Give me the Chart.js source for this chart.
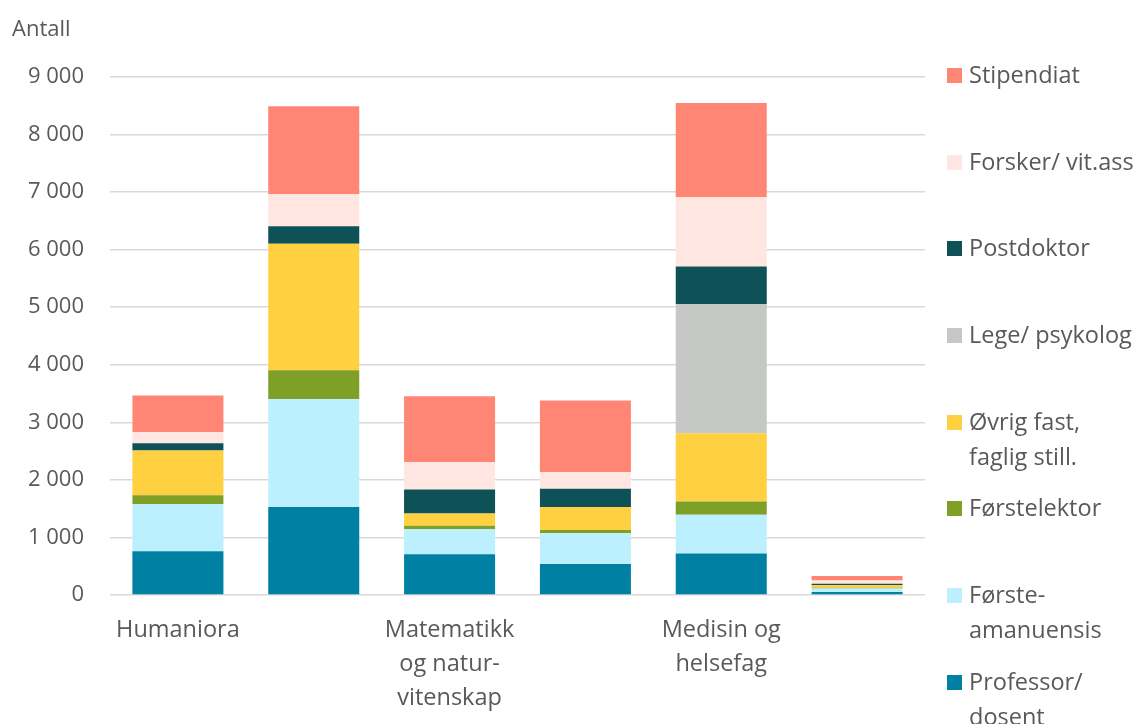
<!DOCTYPE html>
<html>
<head>
<meta charset="utf-8">
<script src="https://cdn.jsdelivr.net/npm/chart.js@4"></script>
<style>
  html, body { margin: 0; padding: 0; background: #fff; }
  #wrap { position: relative; width: 1143px; height: 724px; font-family: "Open Sans", sans-serif; color: #595959; }
  #ytitle { position: absolute; left: 12px; top: 12px; font-size: 22px; }
  #legend { position: absolute; left: 947px; top: 57px; font-size: 23.5px; line-height: 35px; }
  .item { display: flex; align-items: flex-start; height: 86.7px; }
  .box { width: 15px; height: 15px; margin-top: 11px; margin-right: 7px; flex: none; }
</style>
</head>
<body>
<div id="wrap">
  <canvas id="chart" width="1143" height="724"></canvas>
  <div id="ytitle">Antall</div>
  <div id="legend"></div>
</div>
<script>
// categories (Excel skipped every other label)
const categories = [
  ['Humaniora'],
  ['Samfunnsvitenskap'],
  ['Matematikk', 'og natur-', 'vitenskap'],
  ['Teknologi'],
  ['Medisin og', 'helsefag'],
  ['Landbruks- og fiskerifag']
];
const shownLabels = [0, 2, 4];

// series, bottom to top in the stack
const professor   = [760, 1530, 706, 538, 723, 50];
const forsteaman  = [815, 1875, 440, 533, 671, 65];
const forstelektor = [160, 498, 58, 57, 232, 10];
const ovrigFast   = [776, 2200, 214, 400, 1186, 50];
const legePsykolog = [0, 0, 0, 0, 2246, 0];
const postdoktor  = [127, 306, 417, 318, 648, 20];
const forsker     = [191, 555, 474, 289, 1209, 55];
const stipendiat  = [637, 1528, 1146, 1245, 1632, 80];

const yTicks = [0, 1000, 2000, 3000, 4000, 5000, 6000, 7000, 8000, 9000];

const series = [
  { name: ['Professor/', 'dosent'], data: professor, color: '#0080a3' },
  { name: ['Første-', 'amanuensis'], data: forsteaman, color: '#bdf0ff' },
  { name: ['Førstelektor'], data: forstelektor, color: '#7ea026' },
  { name: ['Øvrig fast,', 'faglig still.'], data: ovrigFast, color: '#ffd03f' },
  { name: ['Lege/ psykolog'], data: legePsykolog, color: '#c6c8c5' },
  { name: ['Postdoktor'], data: postdoktor, color: '#0e5157' },
  { name: ['Forsker/ vit.ass'], data: forsker, color: '#ffe6e1' },
  { name: ['Stipendiat'], data: stipendiat, color: '#ff8674' }
];

const fmt = v => String(v).replace(/\B(?=(\d{3})+(?!\d))/g, ' ');

const ctx = document.getElementById('chart').getContext('2d');
new Chart(ctx, {
  type: 'bar',
  data: {
    labels: categories,
    datasets: series.map(s => ({
      label: s.name.join(' '),
      data: s.data,
      backgroundColor: s.color,
      borderWidth: 0,
      barPercentage: 0.67,
      categoryPercentage: 1
    }))
  },
  options: {
    responsive: false,
    animation: false,
    layout: { padding: { top: 77, right: 218, bottom: 0, left: 0 } },
    plugins: { legend: { display: false }, tooltip: { enabled: false } },
    scales: {
      x: {
        stacked: true,
        grid: { display: false },
        border: { display: false },
        ticks: {
          color: '#595959',
          font: { family: 'Open Sans', size: 23.5, lineHeight: 1.45 },
          padding: 10,
          maxRotation: 0,
          autoSkip: false,
          callback: function (v, i) { return shownLabels.includes(i) ? categories[i] : ''; }
        },
        afterFit: s => { s.height = 129; }
      },
      y: {
        stacked: true,
        min: 0,
        max: 9000,
        afterBuildTicks: s => { s.ticks = yTicks.map(v => ({ value: v })); },
        grid: { color: '#d9d9d9', lineWidth: 1.5, drawTicks: false },
        border: { display: false },
        ticks: {
          color: '#595959',
          font: { family: 'Open Sans', size: 22 },
          padding: 26,
          callback: v => fmt(v)
        },
        afterFit: s => { s.width = 110; }
      }
    }
  }
});

// legend, top to bottom
const legend = document.getElementById('legend');
series.slice().reverse().forEach(s => {
  const item = document.createElement('div');
  item.className = 'item';
  const box = document.createElement('span');
  box.className = 'box';
  box.style.background = s.color;
  const txt = document.createElement('span');
  txt.innerHTML = s.name.join('<br>');
  item.appendChild(box);
  item.appendChild(txt);
  legend.appendChild(item);
});
</script>
</body>
</html>
